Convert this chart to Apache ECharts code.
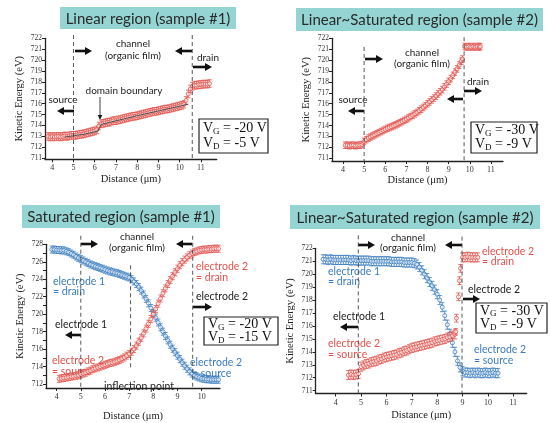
<!DOCTYPE html>
<html><head><meta charset="utf-8">
<script src="https://cdn.jsdelivr.net/npm/echarts@6/dist/echarts.min.js"></script>
<style>html,body{margin:0;padding:0;background:#fff}#c{width:550px;height:423px}</style>
</head><body><div id="c"></div>
<script>
// ---------- DATA ----------
// Panel 1: Linear region (sample #1)
const p1Red = [[3.8,713.0],[3.9,712.95],[4.0,713.0],[4.1,712.95],[4.2,713.0],[4.3,713.0],[4.4,712.95],[4.5,713.0],[4.6,713.05],[4.7,713.0],[4.8,713.05],[4.9,713.1],[5.0,713.1],[5.1,713.1],[5.2,713.15],[5.3,713.2],[5.4,713.2],[5.5,713.25],[5.6,713.3],[5.7,713.35],[5.8,713.4],[5.9,713.45],[6.0,713.5],[6.1,713.6],[6.2,713.95],[6.3,714.15],[6.4,714.2],[6.5,714.25],[6.6,714.3],[6.7,714.3],[6.8,714.4],[6.9,714.45],[7.0,714.45],[7.1,714.5],[7.2,714.55],[7.3,714.6],[7.4,714.65],[7.5,714.7],[7.6,714.75],[7.7,714.8],[7.8,714.85],[7.9,714.85],[8.0,714.9],[8.1,714.95],[8.2,715.0],[8.3,715.05],[8.4,715.1],[8.5,715.15],[8.6,715.2],[8.7,715.25],[8.8,715.3],[8.9,715.3],[9.0,715.35],[9.1,715.4],[9.2,715.45],[9.3,715.5],[9.4,715.5],[9.5,715.55],[9.6,715.6],[9.7,715.65],[9.8,715.7],[9.9,715.75],[10.0,715.8],[10.1,715.85],[10.2,715.95],[10.3,716.3],[10.4,716.9],[10.5,717.35],[10.6,717.6],[10.7,717.7],[10.8,717.7],[10.9,717.75],[11.0,717.75],[11.1,717.8],[11.2,717.8],[11.3,717.8],[11.4,717.85]];
const p1RedErr = 0.35;
const p1Fit = [[4.6,712.95],[5.5,713.2],[6.15,713.5],[6.3,714.1],[8.0,714.9],[10.4,715.95]];
const p1Dash = [[5.0,722.3],[10.59,722.3]];

// Panel 2: Linear~Saturated region (sample #2)
const p2Red = [[4.1,712.2],[4.2,712.2],[4.3,712.15],[4.4,712.2],[4.5,712.2],[4.6,712.15],[4.7,712.2],[4.8,712.2],[4.9,712.25],[5.0,712.55],[5.1,712.7],[5.2,712.85],[5.3,712.95],[5.4,713.05],[5.5,713.15],[5.6,713.25],[5.7,713.35],[5.8,713.45],[5.9,713.55],[6.0,713.65],[6.1,713.75],[6.2,713.82],[6.3,713.9],[6.4,713.98],[6.5,714.07],[6.6,714.16],[6.7,714.26],[6.8,714.36],[6.9,714.47],[7.0,714.58],[7.1,714.7],[7.2,714.82],[7.3,714.94],[7.4,715.07],[7.5,715.2],[7.6,715.35],[7.7,715.5],[7.8,715.66],[7.9,715.82],[8.0,716.0],[8.1,716.17],[8.2,716.35],[8.3,716.52],[8.4,716.7],[8.5,716.9],[8.6,717.1],[8.7,717.3],[8.8,717.55],[8.9,717.8],[9.0,718.05],[9.1,718.3],[9.2,718.6],[9.3,718.9],[9.4,719.2],[9.5,719.55],[9.6,719.9],[9.65,720.1],[9.75,721.25],[9.85,721.2],[9.95,721.25],[10.05,721.2],[10.15,721.25],[10.25,721.2],[10.35,721.25],[10.45,721.2],[10.5,721.25]];
const p2RedErr = 0.3;
const p2Dash = [[5.0,721.2],[9.73,722.1]];

// Panel 3: Saturated region (sample #1)
const p3Blue = [[3.8,727.4],[3.9,727.4],[4.0,727.35],[4.1,727.35],[4.2,727.3],[4.3,727.3],[4.4,727.2],[4.5,727.1],[4.6,726.95],[4.7,726.8],[4.8,726.6],[4.9,726.45],[5.0,726.3],[5.1,726.15],[5.2,726.0],[5.3,725.85],[5.4,725.7],[5.5,725.6],[5.6,725.5],[5.7,725.4],[5.8,725.3],[5.9,725.2],[6.0,725.1],[6.1,725.0],[6.2,724.9],[6.3,724.85],[6.4,724.75],[6.5,724.7],[6.6,724.6],[6.7,724.5],[6.8,724.4],[6.9,724.3],[7.0,724.2],[7.1,724.0],[7.2,723.75],[7.3,723.45],[7.4,723.1],[7.5,722.7],[7.6,722.25],[7.7,721.75],[7.8,721.25],[7.9,720.7],[8.0,720.15],[8.1,719.6],[8.2,719.05],[8.3,718.5],[8.4,718.0],[8.5,717.5],[8.6,717.0],[8.7,716.5],[8.8,716.05],[8.9,715.65],[9.0,715.25],[9.1,714.85],[9.2,714.45],[9.3,714.1],[9.4,713.75],[9.5,713.45],[9.6,713.2],[9.7,713.0],[9.8,712.85],[9.9,712.75],[10.0,712.65],[10.1,712.6],[10.2,712.55],[10.3,712.55],[10.4,712.5],[10.5,712.5],[10.6,712.5],[10.7,712.5]];
const p3Red = [[4.1,712.6],[4.2,712.65],[4.3,712.7],[4.4,712.75],[4.5,712.8],[4.6,712.85],[4.7,712.9],[4.8,712.95],[4.9,713.0],[5.0,713.1],[5.1,713.2],[5.2,713.3],[5.3,713.45],[5.4,713.55],[5.5,713.7],[5.6,713.8],[5.7,713.9],[5.8,714.0],[5.9,714.1],[6.0,714.2],[6.1,714.3],[6.2,714.4],[6.3,714.45],[6.4,714.55],[6.5,714.65],[6.6,714.75],[6.7,714.9],[6.8,715.05],[6.9,715.25],[7.0,715.45],[7.1,715.7],[7.2,716.0],[7.3,716.4],[7.4,716.85],[7.5,717.3],[7.6,717.8],[7.7,718.35],[7.8,718.9],[7.9,719.45],[8.0,720.0],[8.1,720.6],[8.2,721.2],[8.3,721.8],[8.4,722.4],[8.5,722.95],[8.6,723.45],[8.7,723.9],[8.8,724.35],[8.9,724.8],[9.0,725.2],[9.1,725.6],[9.2,725.95],[9.3,726.25],[9.4,726.5],[9.5,726.75],[9.6,726.95],[9.7,727.1],[9.8,727.2],[9.9,727.3],[10.0,727.35],[10.1,727.4],[10.2,727.4],[10.3,727.45],[10.4,727.45],[10.5,727.5],[10.6,727.5],[10.7,727.5]];
const p3Err = 0.4;
const p3Dash = [[5.0,728.98],[9.63,728.98]];
const p3Inflection = [[7.06,725.6],[7.06,713.6]];

// Panel 4: Linear~Saturated region (sample #2)
const p4Blue = [[3.5,721.15],[3.6,721.15],[3.7,721.1],[3.8,721.15],[3.9,721.1],[4.0,721.1],[4.1,721.1],[4.2,721.1],[4.3,721.1],[4.4,721.1],[4.5,721.1],[4.6,721.05],[4.7,721.1],[4.8,721.05],[4.9,721.05],[5.0,721.05],[5.1,721.05],[5.2,721.05],[5.3,721.05],[5.4,721.0],[5.5,721.0],[5.6,721.0],[5.7,721.0],[5.8,721.0],[5.9,721.0],[6.0,721.0],[6.1,721.0],[6.2,720.95],[6.3,720.95],[6.4,720.95],[6.5,720.95],[6.6,720.95],[6.7,720.9],[6.8,720.9],[6.9,720.9],[7.0,720.9],[7.1,720.85],[7.2,720.75],[7.3,720.55],[7.4,720.3],[7.5,720.0],[7.6,719.7],[7.7,719.4],[7.8,719.1],[7.9,718.8],[8.0,718.45],[8.1,718.0],[8.2,717.45],[8.3,716.8],[8.4,716.1],[8.5,715.4],[8.6,714.7],[8.7,714.0],[8.8,713.3],[8.9,712.8],[9.0,712.5],[9.1,712.4],[9.2,712.4],[9.3,712.35],[9.4,712.4],[9.5,712.35],[9.6,712.4],[9.7,712.35],[9.8,712.35],[9.9,712.4],[10.0,712.35],[10.1,712.35],[10.2,712.4],[10.3,712.35],[10.4,712.35]];
const p4Red = [[4.5,712.2],[4.6,712.25],[4.7,712.2],[4.8,712.25],[4.9,712.3],[5.0,712.85],[5.1,712.95],[5.2,713.05],[5.3,713.1],[5.4,713.2],[5.5,713.25],[5.6,713.3],[5.7,713.4],[5.8,713.45],[5.9,713.55],[6.0,713.6],[6.1,713.65],[6.2,713.7],[6.3,713.75],[6.4,713.8],[6.5,713.9],[6.6,713.95],[6.7,714.05],[6.8,714.1],[6.9,714.2],[7.0,714.3],[7.1,714.35],[7.2,714.4],[7.3,714.45],[7.4,714.5],[7.5,714.55],[7.6,714.6],[7.7,714.65],[7.8,714.7],[7.9,714.8],[8.0,714.85],[8.1,714.9],[8.2,714.95],[8.3,715.0],[8.4,715.1],[8.5,715.15],[8.6,715.25],[8.7,715.35]];
const p4RedTransit = [[8.73,715.55],[8.76,716.6],[8.84,718.25],[8.88,719.5],[8.92,720.45]];
const p4RedTransitErr = [0.25,0.3,0.3,0.3,0.3];
const p4RedDrain = [[9.0,721.3],[9.1,721.3],[9.2,721.35],[9.3,721.3],[9.4,721.3],[9.5,721.3],[9.6,721.3]];
const p4Err = 0.35;
const p4Dash = [[4.89,723.0],[8.98,722.9]];

// axis ticks
const ticks1X = [4,5,6,7,8,9,10,11];
const ticks1Y = [711,712,713,714,715,716,717,718,719,720,721,722];
const ticks3X = [4,5,6,7,8,9,10];
const ticks3Y = [712,714,716,718,720,722,724,726,728];
const ticks3YMinor = [712,713,714,715,716,717,718,719,720,721,722,723,724,725,726,727,728];

// ---------- CHART ----------
const RED = '#e2514b', BLUE = '#3b7cc0';
const chart = echarts.init(document.getElementById('c'));

function withErr(arr, err) { return arr.map((p, i) => [p[0], p[1], Array.isArray(err) ? err[i] : err]); }
function errRender(color) {
  return function (params, api) {
    const x = api.value(0), y = api.value(1), e = api.value(2);
    const c = api.coord([x, y]), t = api.coord([x, y + e]), b = api.coord([x, y - e]);
    const w = 2.2, st = {stroke: color, lineWidth: 0.8, fill: null};
    return {type: 'group', children: [
      {type: 'line', shape: {x1: c[0], y1: t[1], x2: c[0], y2: b[1]}, style: st},
      {type: 'line', shape: {x1: c[0] - w, y1: t[1], x2: c[0] + w, y2: t[1]}, style: st},
      {type: 'line', shape: {x1: c[0] - w, y1: b[1], x2: c[0] + w, y2: b[1]}, style: st},
      {type: 'circle', shape: {cx: c[0], cy: c[1], r: 2}, style: {stroke: color, lineWidth: 0.8, fill: 'rgba(255,255,255,0.6)'}}
    ]};
  };
}
function errSeries(idx, data, color) {
  return {type: 'custom', xAxisIndex: idx, yAxisIndex: idx, data: data, renderItem: errRender(color), clip: false, silent: true};
}
const axisCommon = {
  axisLine: {lineStyle: {color: '#222', width: 1.3}},
  splitLine: {show: false},
  nameTextStyle: {fontFamily: 'Liberation Serif', fontSize: 10.5, color: '#222'}
};
function xAx(idx, min, max, ticks, gap) {
  return Object.assign({}, axisCommon, {type: 'value', gridIndex: idx, min, max, name: 'Distance (μm)', nameLocation: 'middle', nameGap: gap,
    axisTick: {customValues: ticks, length: 3, lineStyle: {color: '#222'}},
    axisLabel: {customValues: ticks, fontFamily: 'Liberation Serif', fontSize: 8, color: '#333', margin: 5}});
}
function yAx(idx, min, max, labels, tks, gap) {
  return Object.assign({}, axisCommon, {type: 'value', gridIndex: idx, min, max, name: 'Kinetic Energy (eV)', nameLocation: 'middle', nameGap: gap,
    axisTick: {customValues: tks, length: 3, lineStyle: {color: '#222'}},
    axisLabel: {customValues: labels, fontFamily: 'Liberation Serif', fontSize: 7.5, color: '#333', margin: 3}});
}

// graphics helpers
function txt(x, y, text, color, align, size) {
  return {type: 'text', x, y, silent: true, style: {text, fill: color || '#222', fontFamily: 'Lato', fontSize: size || 10, align: align || 'center', verticalAlign: 'middle'}};
}
function arrow(x1, y1, x2, y2, lw, hl, hw) {
  lw = lw || 2.6; hl = hl || 7; hw = hw || 4;
  const dx = x2 - x1, dy = y2 - y1, L = Math.hypot(dx, dy), ux = dx / L, uy = dy / L;
  const bx = x2 - ux * hl, by = y2 - uy * hl;
  return [
    {type: 'line', silent: true, shape: {x1, y1, x2: bx + ux, y2: by + uy}, style: {stroke: '#111', lineWidth: lw}},
    {type: 'polygon', silent: true, shape: {points: [[x2, y2], [bx - uy * hw, by + ux * hw], [bx + uy * hw, by - ux * hw]]}, style: {fill: '#111'}}
  ];
}
function title(x, y, w, h, text) {
  return [
    {type: 'rect', silent: true, shape: {x, y, width: w, height: h}, style: {fill: '#94d4d2'}},
    {type: 'text', silent: true, x: x + w / 2, y: y + h / 2 + 1, style: {text, fill: '#2a2a2a', fontFamily: 'Lato', fontSize: 15, align: 'center', verticalAlign: 'middle'}}
  ];
}
function vbox(x, y, w, h, vg, vd) {
  const rich = {v: {fontFamily: 'Liberation Serif', fontSize: 14, fill: '#111'}, s: {fontFamily: 'Liberation Serif', fontSize: 9, fill: '#111', padding: [6, 0, 0, 0]}};
  return [
    {type: 'rect', silent: true, shape: {x, y, width: w, height: h}, style: {fill: '#fff', stroke: '#222', lineWidth: 1.2}},
    {type: 'text', silent: true, x: x + 4, y: y + h * 0.27, style: {text: '{v|V}{s|G}{v| = ' + vg + ' V}', rich, verticalAlign: 'middle', align: 'left'}},
    {type: 'text', silent: true, x: x + 4, y: y + h * 0.72, style: {text: '{v|V}{s|D}{v| = ' + vd + ' V}', rich, verticalAlign: 'middle', align: 'left'}}
  ];
}

const graphics = [].concat(
  title(60, 7, 176, 22, 'Linear region (sample #1)'),
  title(296, 8, 247, 23, 'Linear~Saturated region (sample #2)'),
  title(22, 205, 198, 23, 'Saturated region (sample #1)'),
  title(290, 205, 250, 24, 'Linear~Saturated region (sample #2)'),
  // panel 1
  [txt(133, 44, 'channel'), txt(133, 56, '(organic film)'), txt(208, 58, 'drain'), txt(63, 100, 'source'), txt(124, 91, 'domain boundary')],
  arrow(75, 51, 92, 51), arrow(192, 51, 175, 51), arrow(193, 67, 212, 67), arrow(74, 111, 57, 111),
  arrow(100, 97, 100, 120, 0.8, 5, 2.2),
  vbox(199, 119, 69, 34, '-20', '-5'),
  // panel 2
  [txt(422, 53, 'channel'), txt(422, 63.5, '(organic film)'), txt(478, 82, 'drain'), txt(353, 100, 'source')],
  arrow(365, 59, 383, 59), arrow(464, 91, 482, 91), arrow(463, 99, 447, 99), arrow(364, 111, 348, 111),
  vbox(471, 122, 66, 31, '-30', '-9'),
  // panel 3
  [txt(137, 237, 'channel'), txt(137, 248, '(organic film)'),
   txt(196, 267, 'electrode 2', RED, 'left', 10.5), txt(196, 278, '= drain', RED, 'left', 10.5),
   txt(196, 297, 'electrode 2', '#222', 'left', 10.5),
   txt(53, 282, 'electrode 1', BLUE, 'left', 10.5), txt(53, 292, '= drain', BLUE, 'left', 10.5),
   txt(55, 325, 'electrode 1', '#222', 'left', 10.5),
   txt(52, 361, 'electrode 2', RED, 'left', 10.5), txt(52, 372, '= source', RED, 'left', 10.5),
   txt(190, 363, 'electrode 2', BLUE, 'left', 10.5), txt(192, 374, '= source', BLUE, 'left', 10.5),
   txt(139, 387, 'inflection point', '#222', 'center', 10.5)],
  arrow(81, 244, 98, 244), arrow(192, 244, 176, 244), arrow(193, 307, 212, 307), arrow(81, 335, 65, 335),
  vbox(204, 317, 74, 28, '-20', '-15'),
  // panel 4
  [txt(408, 238, 'channel'), txt(408, 248, '(organic film)'),
   txt(482, 252, 'electrode 2', RED, 'left', 10.5), txt(482, 262, '= drain', RED, 'left', 10.5),
   txt(468, 290, 'electrode 2', '#222', 'left', 10.5),
   txt(328, 272, 'electrode 1', BLUE, 'left', 10.5), txt(328, 282, '= drain', BLUE, 'left', 10.5),
   txt(333, 317, 'electrode 1', '#222', 'left', 10.5),
   txt(328, 344, 'electrode 2', RED, 'left', 10.5), txt(328, 355, '= source', RED, 'left', 10.5),
   txt(474, 350, 'electrode 2', BLUE, 'left', 10.5), txt(474, 361, '= source', BLUE, 'left', 10.5)],
  arrow(358, 245, 375, 245), arrow(462, 245, 445, 245), arrow(463, 299, 480, 299), arrow(358, 327, 340, 327),
  vbox(476, 303, 71, 30, '-30', '-9')
);

const yMins = [710.9, 710.75, 711.55, 710.78];
const option = {
  animation: false,
  backgroundColor: '#fff',
  grid: [
    {left: 45, top: 38.3, width: 171.7, height: 121},
    {left: 332, top: 38.3, width: 171, height: 122.7},
    {left: 46, top: 244.3, width: 174, height: 156.7},
    {left: 315.7, top: 248.3, width: 211, height: 145.2}
  ],
  xAxis: [
    xAx(0, 3.66, 11.74, ticks1X, 14),
    xAx(1, 3.48, 11.57, ticks1X, 14),
    xAx(2, 3.56, 10.76, ticks3X, 23),
    xAx(3, 3.21, 11.53, ticks1X, 16)
  ],
  yAxis: [
    yAx(0, yMins[0], 722, ticks1Y, ticks1Y, 20),
    yAx(1, yMins[1], 722, ticks1Y, ticks1Y, 20),
    yAx(2, yMins[2], 728, ticks3Y, ticks3YMinor, 20),
    yAx(3, yMins[3], 722, ticks1Y, ticks1Y, 20)
  ],
  series: [
    errSeries(0, withErr(p1Red, p1RedErr), RED),
    {type: 'line', xAxisIndex: 0, yAxisIndex: 0, data: p1Fit, symbol: 'none', lineStyle: {color: '#444', width: 0.9}, silent: true},
    errSeries(1, withErr(p2Red, p2RedErr), RED),
    errSeries(2, withErr(p3Blue, p3Err), BLUE),
    errSeries(2, withErr(p3Red, p3Err), RED),
    errSeries(3, withErr(p4Blue, p4Err), BLUE),
    errSeries(3, withErr(p4Red, p4Err), RED),
    errSeries(3, withErr(p4RedTransit, p4RedTransitErr), RED),
    errSeries(3, withErr(p4RedDrain, p4Err), RED)
  ]
};
chart.setOption(option);

// dashed guide lines placed through the library's own scales
function dash(grid, top, bottom) {
  const a = chart.convertToPixel({gridIndex: grid}, top);
  const b = chart.convertToPixel({gridIndex: grid}, bottom);
  return {type: 'line', silent: true, z: 5, shape: {x1: a[0], y1: a[1], x2: b[0], y2: b[1]}, style: {stroke: '#444', lineWidth: 0.9, lineDash: [4, 3]}};
}
const dashes = [];
[p1Dash, p2Dash, p3Dash, p4Dash].forEach((list, g) => list.forEach(p => dashes.push(dash(g, p, [p[0], yMins[g]]))));
dashes.push(dash(2, p3Inflection[0], p3Inflection[1]));

chart.setOption({graphic: dashes.concat(graphics)});
</script></body></html>
